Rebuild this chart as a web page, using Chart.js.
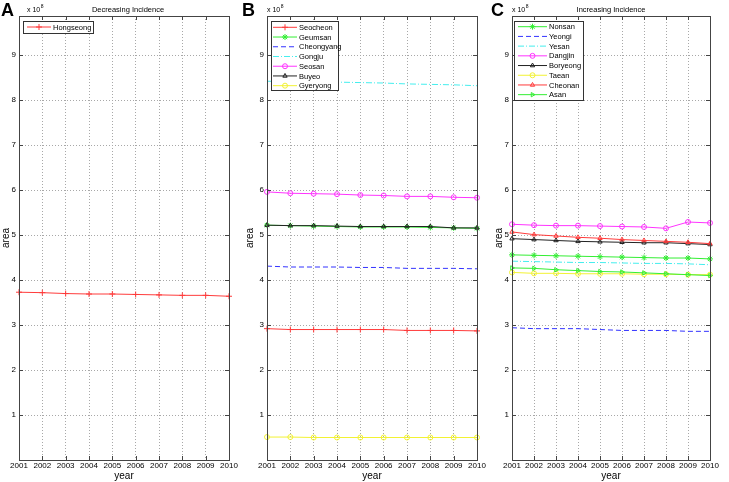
<!DOCTYPE html>
<html>
<head>
<meta charset="utf-8">
<script src="https://cdn.jsdelivr.net/npm/chart.js@4.4.0/dist/chart.umd.min.js"></script>
<style>
  body { margin: 0; background: #fff; width: 729px; height: 482px; overflow: hidden; position: relative; }
  canvas { position: absolute; top: 0; }
</style>
</head>
<body>
<canvas id="chartA" width="240" height="482" style="left:0px"></canvas>
<canvas id="chartB" width="250" height="482" style="left:240px"></canvas>
<canvas id="chartC" width="239" height="482" style="left:490px"></canvas>
<script>
// years and y ticks (area in units of 10^8)
var years = ['2001', '2002', '2003', '2004', '2005', '2006', '2007', '2008', '2009', '2010'];
var yTicks = [1, 2, 3, 4, 5, 6, 7, 8, 9];

// A - decreasing incidence
var hongseong = [3.73, 3.72, 3.70, 3.69, 3.69, 3.68, 3.67, 3.66, 3.66, 3.64];

// B
var seocheon   = [2.92, 2.90, 2.90, 2.90, 2.90, 2.90, 2.88, 2.88, 2.88, 2.87];
var geumsan    = [5.22, 5.21, 5.20, 5.19, 5.18, 5.18, 5.18, 5.17, 5.16, 5.15];
var cheongyang = [4.31, 4.29, 4.29, 4.29, 4.28, 4.28, 4.26, 4.26, 4.26, 4.25];
var gongju     = [8.42, 8.41, 8.40, 8.40, 8.39, 8.38, 8.36, 8.35, 8.34, 8.32];
var seosan     = [5.96, 5.93, 5.92, 5.91, 5.89, 5.88, 5.86, 5.86, 5.84, 5.83];
var buyeo      = [5.22, 5.21, 5.21, 5.20, 5.19, 5.19, 5.19, 5.19, 5.16, 5.16];
var gyeryong   = [0.51, 0.51, 0.50, 0.50, 0.50, 0.50, 0.50, 0.50, 0.50, 0.50];

// C - increasing incidence
var nonsan   = [4.56, 4.55, 4.54, 4.53, 4.52, 4.51, 4.50, 4.49, 4.49, 4.47];
var yeongi   = [2.94, 2.92, 2.92, 2.92, 2.90, 2.88, 2.88, 2.88, 2.86, 2.86];
var yesan    = [4.42, 4.41, 4.40, 4.39, 4.39, 4.38, 4.37, 4.37, 4.36, 4.34];
var dangjin  = [5.24, 5.22, 5.21, 5.21, 5.20, 5.19, 5.18, 5.15, 5.29, 5.27];
var boryeong = [4.92, 4.90, 4.88, 4.86, 4.85, 4.84, 4.83, 4.83, 4.81, 4.79];
var taean    = [4.17, 4.15, 4.15, 4.14, 4.14, 4.14, 4.13, 4.13, 4.12, 4.12];
var cheonan  = [5.07, 5.01, 4.98, 4.95, 4.93, 4.90, 4.88, 4.86, 4.84, 4.81];
var asan     = [4.27, 4.26, 4.23, 4.21, 4.19, 4.18, 4.16, 4.14, 4.12, 4.10];

var FONT = "'Liberation Sans', Arial, sans-serif";
var RED = '#ff3b3b', GREEN = '#33ee33', BLUE = '#3333ff', CYAN = '#44eeee',
    MAGENTA = '#ff33ff', BLACK = '#222222', YELLOW = '#f2f233';

function markerSize(marker) {
    return (marker === 'cross' || marker === 'star') ? 3 : 2.5;
}

function series(label, data, color, marker, dash, rot) {
    return {
        label: label,
        data: data,
        borderColor: color,
        backgroundColor: color,
        borderWidth: 1,
        borderDash: dash || [],
        pointStyle: marker || false,
        pointRadius: marker ? markerSize(marker) : 0,
        pointRotation: rot || 0,
        pointBorderColor: color,
        pointBackgroundColor: 'rgba(0,0,0,0)',
        pointBorderWidth: 1,
        tension: 0
    };
}

// extra MATLAB-like decorations: box, inward ticks, panel letter, exponent, title, legend
var matlabPlugin = {
    id: 'matlab',
    afterDraw: function (chart, args, opts) {
        var ctx = chart.ctx, a = chart.chartArea;
        var xs = chart.scales.x, ys = chart.scales.y;
        ctx.save();
        // box
        ctx.strokeStyle = '#444';
        ctx.lineWidth = 1;
        ctx.setLineDash([]);
        ctx.strokeRect(Math.round(a.left) + 0.5, Math.round(a.top) + 0.5,
            Math.round(a.right - a.left), Math.round(a.bottom - a.top));
        // inward ticks
        ctx.beginPath();
        yTicks.forEach(function (v) {
            var y = Math.round(ys.getPixelForValue(v)) + 0.5;
            ctx.moveTo(a.left, y); ctx.lineTo(a.left + 4, y);
            ctx.moveTo(a.right, y); ctx.lineTo(a.right - 4, y);
        });
        years.forEach(function (yr, i) {
            var x = Math.round(xs.getPixelForValue(i)) + 0.5;
            ctx.moveTo(x, a.bottom); ctx.lineTo(x, a.bottom - 4);
            ctx.moveTo(x, a.top); ctx.lineTo(x, a.top + 4);
        });
        ctx.stroke();

        // panel letter
        ctx.fillStyle = '#000';
        ctx.textBaseline = 'alphabetic';
        ctx.textAlign = 'left';
        ctx.font = 'bold 18px ' + FONT;
        ctx.fillText(opts.letter, opts.letterX, 16);
        // x 10^8
        ctx.font = '7px ' + FONT;
        ctx.fillText('x 10', opts.expX, 12);
        var w = ctx.measureText('x 10').width;
        ctx.font = '5px ' + FONT;
        ctx.fillText('8', opts.expX + w + 0.5, 8);
        // title
        if (opts.title) {
            ctx.font = '7.5px ' + FONT;
            ctx.textAlign = 'center';
            ctx.fillText(opts.title, opts.titleX, 12);
        }

        // legend
        var L = opts.legend;
        ctx.fillStyle = '#fff';
        ctx.fillRect(L.x, L.y, L.w, L.h);
        ctx.strokeStyle = '#333';
        ctx.strokeRect(L.x + 0.5, L.y + 0.5, L.w, L.h);
        ctx.font = '7.5px ' + FONT;
        ctx.textAlign = 'left';
        ctx.textBaseline = 'middle';
        chart.data.datasets.forEach(function (ds, i) {
            var y = L.row0 + i * L.step;
            ctx.strokeStyle = ds.borderColor;
            ctx.lineWidth = 1;
            ctx.setLineDash(ds.borderDash || []);
            ctx.beginPath();
            ctx.moveTo(L.line0, y);
            ctx.lineTo(L.line1, y);
            ctx.stroke();
            ctx.setLineDash([]);
            if (ds.pointStyle) {
                ctx.fillStyle = 'rgba(0,0,0,0)';
                Chart.helpers.drawPoint(ctx, {
                    pointStyle: ds.pointStyle, radius: ds.pointRadius, rotation: ds.pointRotation || 0, borderWidth: 1
                }, (L.line0 + L.line1) / 2, y);
            }
            ctx.fillStyle = '#000';
            ctx.fillText(ds.label, L.textX, y + 0.5);
        });
        ctx.restore();
    }
};

function makeChart(id, datasets, yWidth, rightPad, areaPad, deco) {
    datasets.forEach(function (ds, i) { ds.order = -i; });
    return new Chart(document.getElementById(id), {
        type: 'line',
        data: { labels: years, datasets: datasets },
        options: {
            responsive: false,
            animation: false,
            layout: { padding: { top: 16, right: rightPad, left: 0, bottom: 0 } },
            plugins: {
                legend: { display: false },
                tooltip: { enabled: false },
                matlab: deco
            },
            scales: {
                x: {
                    offset: false,
                    afterFit: function (s) { s.height = 22; },
                    grid: { color: '#a8a8a8', lineWidth: 1, drawTicks: false },
                    border: { display: false, dash: [1, 2] },
                    ticks: { color: '#000', font: { family: FONT, size: 8 }, padding: 1, maxRotation: 0, autoSkip: false },
                    title: { display: true, text: 'year', color: '#000', font: { family: FONT, size: 10 }, padding: 0 }
                },
                y: {
                    min: 0,
                    max: 9.87,
                    afterFit: function (s) { s.width = yWidth; },
                    afterBuildTicks: function (s) { s.ticks = yTicks.map(function (v) { return { value: v }; }); },
                    grid: { color: '#a8a8a8', lineWidth: 1, drawTicks: false },
                    border: { display: false, dash: [1, 2] },
                    ticks: { color: '#000', font: { family: FONT, size: 8 }, padding: 3 },
                    title: { display: true, text: 'area', color: '#000', font: { family: FONT, size: 10 }, padding: { top: areaPad, bottom: 0 } }
                }
            }
        },
        plugins: [matlabPlugin]
    });
}

makeChart('chartA', [
    series('Hongseong', hongseong, RED, 'cross')
], 19, 11, 0, {
    letter: 'A', letterX: 1, expX: 27, title: 'Decreasing Incidence', titleX: 128,
    legend: { x: 23, y: 21, w: 70, h: 12, row0: 27, step: 10, line0: 27, line1: 51, textX: 53 }
});

makeChart('chartB', [
    series('Seocheon', seocheon, RED, 'cross'),
    series('Geumsan', geumsan, GREEN, 'star'),
    series('Cheongyang', cheongyang, BLUE, null, [5, 3]),
    series('Gongju', gongju, CYAN, null, [6, 2, 1, 2]),
    series('Seosan', seosan, MAGENTA, 'circle'),
    series('Buyeo', buyeo, BLACK, 'triangle'),
    series('Gyeryong', gyeryong, YELLOW, 'circle')
], 27, 13, 4.5, {
    letter: 'B', letterX: 2, expX: 27, title: null,
    legend: { x: 31, y: 21, w: 67, h: 69, row0: 27.3, step: 9.73, line0: 33, line1: 57, textX: 59 }
});

makeChart('chartC', [
    series('Nonsan', nonsan, GREEN, 'star'),
    series('Yeongi', yeongi, BLUE, null, [5, 3]),
    series('Yesan', yesan, CYAN, null, [6, 2, 1, 2]),
    series('Dangjin', dangjin, MAGENTA, 'circle'),
    series('Boryeong', boryeong, BLACK, 'triangle'),
    series('Taean', taean, YELLOW, 'circle'),
    series('Cheonan', cheonan, RED, 'triangle'),
    series('Asan', asan, GREEN, 'triangle', null, 90)
], 22, 19, 3, {
    letter: 'C', letterX: 1, expX: 22, title: 'Increasing Incidence', titleX: 121,
    legend: { x: 24, y: 21, w: 69, h: 79, row0: 26.7, step: 9.71, line0: 28, line1: 57, textX: 59 }
});
</script>
</body>
</html>
